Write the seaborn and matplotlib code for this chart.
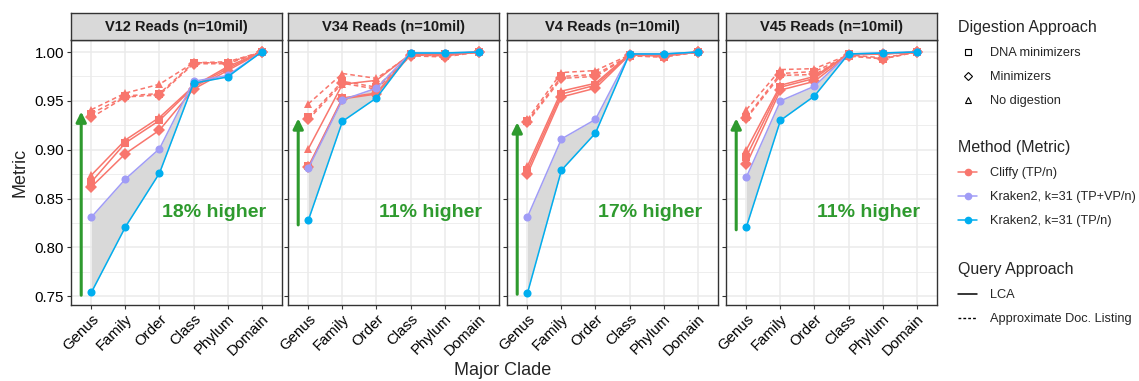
import matplotlib
matplotlib.use("Agg")
import matplotlib.pyplot as plt
from matplotlib.lines import Line2D
from matplotlib.ticker import MultipleLocator
import pandas as pd
import seaborn as sns

# Categories
clades = ["Genus", "Family", "Order", "Class", "Phylum", "Domain"]
regions = ["V12", "V34", "V4", "V45"]
panel_titles = ["V12 Reads (n=10mil)", "V34 Reads (n=10mil)",
                "V4 Reads (n=10mil)", "V45 Reads (n=10mil)"]

# Kraken2 series
kraken_tp = {
    "V12": [0.754, 0.821, 0.876, 0.968, 0.9745, 1.0],
    "V34": [0.828, 0.929, 0.953, 0.999, 0.999, 1.0],
    "V4":  [0.753, 0.879, 0.917, 0.998, 0.998, 1.0],
    "V45": [0.821, 0.930, 0.955, 0.998, 0.999, 1.0],
}
kraken_tpvp = {
    "V12": [0.831, 0.870, 0.901, 0.970, 0.976, 1.0],
    "V34": [0.881, 0.951, 0.963, 0.999, 0.999, 1.0],
    "V4":  [0.831, 0.911, 0.931, 0.998, 0.998, 1.0],
    "V45": [0.872, 0.950, 0.965, 0.998, 0.999, 1.0],
}

# Cliffy, LCA query
cliffy_lca_nodig = {
    "V12": [0.874, 0.910, 0.933, 0.965, 0.985, 1.0],
    "V34": [0.901, 0.967, 0.971, 0.998, 0.998, 1.0],
    "V4":  [0.883, 0.960, 0.968, 0.998, 0.997, 1.0],
    "V45": [0.900, 0.966, 0.975, 0.998, 0.998, 1.0],
}
cliffy_lca_dna = {
    "V12": [0.867, 0.907, 0.930, 0.964, 0.983, 1.0],
    "V34": [0.883, 0.953, 0.958, 0.998, 0.998, 1.0],
    "V4":  [0.879, 0.957, 0.966, 0.997, 0.996, 1.0],
    "V45": [0.893, 0.964, 0.973, 0.998, 0.998, 1.0],
}
cliffy_lca_min = {
    "V12": [0.862, 0.896, 0.920, 0.962, 0.981, 1.0],
    "V34": [0.882, 0.952, 0.957, 0.997, 0.997, 1.0],
    "V4":  [0.875, 0.954, 0.963, 0.997, 0.996, 1.0],
    "V45": [0.885, 0.961, 0.970, 0.997, 0.998, 1.0],
}

# Cliffy, approximate document listing query
cliffy_adl_nodig = {
    "V12": [0.941, 0.958, 0.967, 0.989, 0.990, 1.0],
    "V34": [0.947, 0.978, 0.973, 0.997, 0.996, 1.0],
    "V4":  [0.931, 0.979, 0.981, 0.997, 0.996, 1.0],
    "V45": [0.941, 0.982, 0.983, 0.997, 0.994, 1.0],
}
cliffy_adl_dna = {
    "V12": [0.937, 0.955, 0.9575, 0.989, 0.989, 1.0],
    "V34": [0.933, 0.970, 0.964, 0.997, 0.996, 1.0],
    "V4":  [0.929, 0.975, 0.977, 0.996, 0.995, 1.0],
    "V45": [0.933, 0.978, 0.980, 0.996, 0.993, 1.0],
}
cliffy_adl_min = {
    "V12": [0.933, 0.954, 0.956, 0.988, 0.988, 1.0],
    "V34": [0.931, 0.968, 0.962, 0.996, 0.995, 1.0],
    "V4":  [0.928, 0.973, 0.975, 0.996, 0.995, 1.0],
    "V45": [0.932, 0.976, 0.977, 0.996, 0.993, 1.0],
}

# Annotations
gain_labels = ["18% higher", "11% higher", "17% higher", "11% higher"]
arrow_from = [0.751, 0.823, 0.752, 0.818]
arrow_to = [0.939, 0.932, 0.928, 0.932]

methods = ["Cliffy (TP/n)", "Kraken2, k=31 (TP+VP/n)", "Kraken2, k=31 (TP/n)"]
palette = {"Cliffy (TP/n)": "#F8766D",
           "Kraken2, k=31 (TP+VP/n)": "#A09CF6",
           "Kraken2, k=31 (TP/n)": "#00AEEF"}

series = [
    ("Cliffy (TP/n)", "No digestion", "LCA", cliffy_lca_nodig),
    ("Cliffy (TP/n)", "DNA minimizers", "LCA", cliffy_lca_dna),
    ("Cliffy (TP/n)", "Minimizers", "LCA", cliffy_lca_min),
    ("Cliffy (TP/n)", "No digestion", "ADL", cliffy_adl_nodig),
    ("Cliffy (TP/n)", "DNA minimizers", "ADL", cliffy_adl_dna),
    ("Cliffy (TP/n)", "Minimizers", "ADL", cliffy_adl_min),
    ("Kraken2, k=31 (TP+VP/n)", "Kraken", "LCA", kraken_tpvp),
    ("Kraken2, k=31 (TP/n)", "Kraken", "LCA", kraken_tp),
]

rows = []
for reg in regions:
    for method, dig, query, vals in series:
        for c, v in zip(clades, vals[reg]):
            rows.append({"region": reg, "clade": c, "value": v, "method": method,
                         "style": dig + "|" + query})
df = pd.DataFrame(rows)

marker_of = {"No digestion": "^", "DNA minimizers": "s", "Minimizers": "D", "Kraken": "o"}
styles = list(dict.fromkeys(df["style"]))
markers = {s: marker_of[s.split("|")[0]] for s in styles}
dashes = {s: ("" if s.endswith("LCA") else (3, 2)) for s in styles}

sns.set_theme(style="white")
plt.rcParams["font.family"] = ["Liberation Sans", "DejaVu Sans"]

fig = plt.figure(figsize=(11.39, 3.81), dpi=100)
W, H = 1139, 381
lefts = [71, 288, 507, 726]
pw = 211
top_px, bot_px, strip_px = 40, 305, 27
green = "#2E9A2E"

for i, reg in enumerate(regions):
    ax = fig.add_axes([lefts[i] / W, 1 - bot_px / H, pw / W, (bot_px - top_px) / H])
    sub = df[df["region"] == reg]
    ax.fill_between(clades, kraken_tpvp[reg], kraken_tp[reg], color="#D9D9D9", lw=0, zorder=1)
    sns.lineplot(data=sub, x="clade", y="value", hue="method", hue_order=methods,
                 style="style", style_order=styles, markers=markers, dashes=dashes,
                 palette=palette, sort=False, legend=False, ax=ax,
                 lw=1.1, markersize=5.8, markeredgewidth=0, zorder=3)
    ax.set_xlim(-0.6, 5.6)
    ax.set_ylim(0.741, 1.0123)
    ax.yaxis.set_major_locator(MultipleLocator(0.05))
    ax.yaxis.set_minor_locator(MultipleLocator(0.025))
    ax.grid(True, which="major", color="#EBEBEB", lw=1.1)
    ax.grid(True, which="minor", axis="y", color="#EBEBEB", lw=0.6)
    ax.set_axisbelow(True)
    for sp in ax.spines.values():
        sp.set_color("#333333")
        sp.set_linewidth(1.0)
    ax.tick_params(axis="both", which="major", length=3, width=0.8, color="#333333",
                   labelsize=10.8, labelcolor="black", pad=2, bottom=True, left=True)
    ax.tick_params(axis="y", which="minor", length=0)
    ax.set_xticks(range(len(clades)))
    ax.set_xticklabels(clades, rotation=45, ha="right", rotation_mode="anchor")
    if i == 0:
        ax.set_yticklabels([f"{t:.2f}" for t in ax.get_yticks()])
        ax.set_ylabel("Metric", fontsize=13, labelpad=4)
    else:
        ax.set_yticklabels([])
        ax.set_ylabel("")
    ax.set_xlabel("")

    # green arrow and label
    ax.annotate("", xy=(-0.3, arrow_to[i]), xytext=(-0.3, arrow_from[i]),
                arrowprops=dict(arrowstyle="-|>", color=green, lw=2.2,
                                mutation_scale=15, shrinkA=0, shrinkB=0), zorder=4)
    ax.text(3.6, 0.8354, gain_labels[i], color=green, fontsize=14,
            fontweight="bold", ha="center", va="center")

    # facet strip
    sax = fig.add_axes([lefts[i] / W, 1 - top_px / H, pw / W, strip_px / H])
    sax.set_facecolor("#D9D9D9")
    sax.set_xticks([])
    sax.set_yticks([])
    for sp in sax.spines.values():
        sp.set_color("#333333")
        sp.set_linewidth(1.0)
    sax.text(0.5, 0.5, panel_titles[i], ha="center", va="center",
             fontsize=10.5, fontweight="bold", color="#1A1A1A")

fig.text(0.441, 0.004, "Major Clade", fontsize=13, ha="center", va="bottom")

# legends
leg_kw = dict(loc="upper left", frameon=False, fontsize=9.2, title_fontsize=11.5,
              alignment="left", borderpad=0, labelspacing=0.95, handlelength=1.5,
              handletextpad=1.0, borderaxespad=0)
dig_handles = [Line2D([], [], ls="", marker=m, mfc="none", mec="black", ms=4.5, mew=0.8)
               for m in ["s", "D", "^"]]
fig.legend(dig_handles, ["DNA minimizers", "Minimizers", "No digestion"],
           title="Digestion Approach", bbox_to_anchor=(958 / W, 1 - 20 / H), **leg_kw)
meth_handles = [Line2D([], [], color=palette[m], marker="o", ms=4.5, lw=1.1) for m in methods]
fig.legend(meth_handles, methods, title="Method (Metric)",
           bbox_to_anchor=(958 / W, 1 - 140 / H), **leg_kw)
q_handles = [Line2D([], [], color="black", lw=1.1),
             Line2D([], [], color="black", lw=1.0, ls=(0, (2, 1.5)))]
fig.legend(q_handles, ["LCA", "Approximate Doc. Listing"], title="Query Approach",
           bbox_to_anchor=(958 / W, 1 - 262 / H), **leg_kw)

fig.savefig("out.png", dpi=100)
